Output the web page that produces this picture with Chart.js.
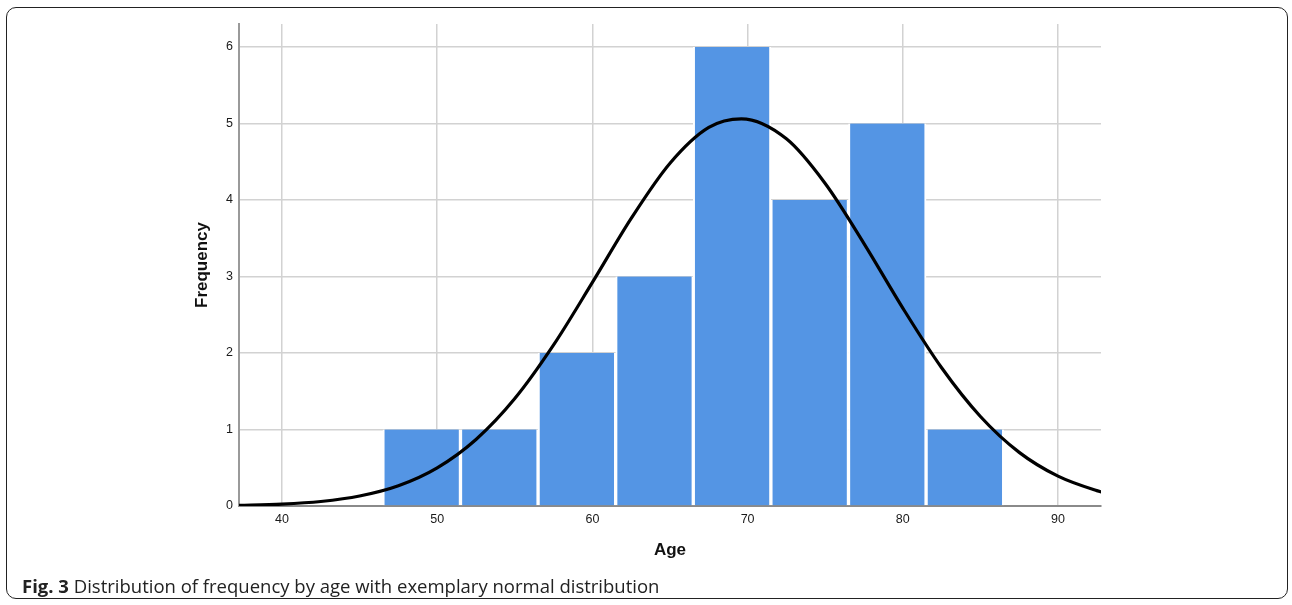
<!DOCTYPE html>
<html>
<head>
<meta charset="utf-8">
<script src="https://cdn.jsdelivr.net/npm/chart.js@4/dist/chart.umd.min.js"></script>
<style>
  html, body { margin: 0; padding: 0; background: #fff; }
  #wrap { position: relative; width: 1292px; height: 605px; overflow: hidden; }
  #frame { position: absolute; left: 6px; top: 7px; width: 1282px; height: 592px;
           border: 1.5px solid #222; border-radius: 10px; box-sizing: border-box; }
  canvas { position: absolute; left: 0; top: 0; }
  #caption { position: absolute; left: 22px; top: 576px; font-family: "Open Sans", sans-serif;
             font-size: 18.5px; color: #222; white-space: nowrap; line-height: 20px; }
  #caption b { font-weight: 700; }
</style>
</head>
<body>
<div id="wrap">
  <div id="frame"></div>
  <canvas id="c" width="1292" height="605"></canvas>
  <div id="caption"><b>Fig. 3</b> Distribution of frequency by age with exemplary normal distribution</div>
</div>
<script>
// Histogram bins (bin centres, age) and counts
const binCenters = [49, 54, 59, 64, 69, 74, 79, 84];
const frequencies = [1, 1, 2, 3, 6, 4, 5, 1];

// Normal curve points (age, frequency)
const curveAges = [37, 40, 42.5, 45, 47.5, 50, 52.5, 55, 57.5, 60, 62.5, 65, 67.5, 69.6, 72.5, 75, 77.5, 80, 82.5, 85, 87.5, 90, 92.5, 93];
const curveValues = [0.008, 0.025, 0.059, 0.13, 0.264, 0.498, 0.869, 1.404, 2.105, 2.922, 3.759, 4.48, 4.948, 5.06, 4.799, 4.215, 3.43, 2.587, 1.807, 1.17, 0.701, 0.39, 0.201, 0.174];

// Axis ticks
const xTicks = [40, 50, 60, 70, 80, 90];
const yTicks = [0, 1, 2, 3, 4, 5, 6];

const barData = binCenters.map((x, i) => ({ x: x, y: frequencies[i] }));
const curveData = curveAges.map((x, i) => ({ x: x, y: curveValues[i] }));

const tickFont = { family: "'Liberation Sans', Arial, sans-serif", size: 12.5 };
const titleFont = { family: "'Liberation Sans', Arial, sans-serif", size: 17, weight: 'bold' };

new Chart(document.getElementById('c'), {
  type: 'bar',
  data: {
    datasets: [
      {
        type: 'line',
        data: curveData,
        borderColor: '#000',
        borderWidth: 3.2,
        pointRadius: 0,
        tension: 0.4,
        cubicInterpolationMode: 'monotone',
        fill: false,
        order: 0
      },
      {
        type: 'bar',
        data: barData,
        backgroundColor: '#5495e4',
        borderColor: '#ffffff',
        borderWidth: { left: 2, right: 2, top: 0, bottom: 0 },
        borderSkipped: false,
        barPercentage: 1,
        categoryPercentage: 1,
        order: 1
      }
    ]
  },
  options: {
    responsive: false,
    animation: false,
    events: [],
    layout: { padding: { left: 180, top: 24, right: 191, bottom: 39 } },
    plugins: { legend: { display: false }, tooltip: { enabled: false } },
    scales: {
      x: {
        type: 'linear',
        min: 37.23,
        max: 92.77,
        offset: false,
        afterFit: s => { s.height = 60; },
        afterBuildTicks: s => { s.ticks = xTicks.map(v => ({ value: v })); },
        grid: { color: '#d2d2d2', lineWidth: 1.5, drawTicks: false, offset: false },
        border: { color: '#8a8a8a', width: 2 },
        ticks: { font: tickFont, color: '#1a1a1a', padding: 6, maxRotation: 0 },
        title: { display: true, text: 'Age', font: titleFont, color: '#111', padding: { top: 0, bottom: 5 } }
      },
      y: {
        min: 0,
        max: 6.3,
        afterFit: s => { s.width = 59; },
        afterBuildTicks: s => { s.ticks = yTicks.map(v => ({ value: v })); },
        grid: { color: '#d2d2d2', lineWidth: 1.5, drawTicks: false },
        border: { color: '#9a9a9a', width: 2 },
        ticks: { font: tickFont, color: '#1a1a1a', padding: 6 },
        title: { display: true, text: 'Frequency', font: titleFont, color: '#111', padding: { top: 12, bottom: 0 } }
      }
    }
  }
});
</script>
</body>
</html>
